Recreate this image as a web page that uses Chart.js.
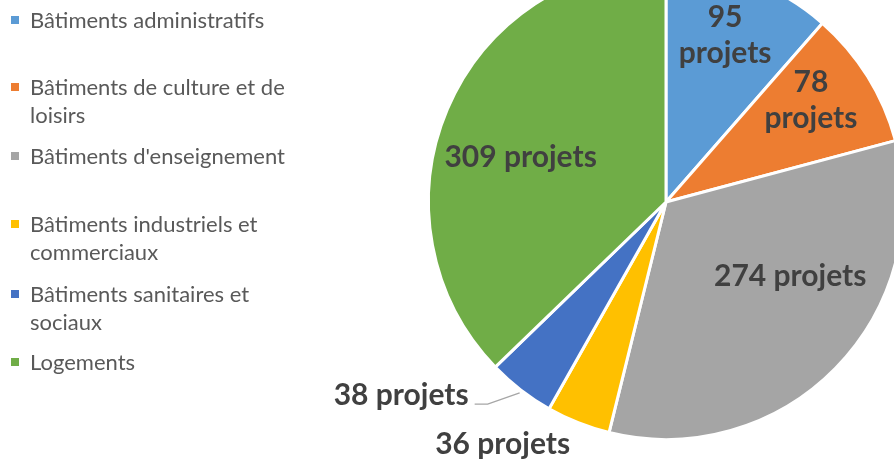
<!DOCTYPE html>
<html>
<head>
<meta charset="utf-8">
<script src="https://cdn.jsdelivr.net/npm/chart.js@4/dist/chart.umd.min.js"></script>
<style>
  html, body { margin:0; padding:0; background:#fff; }
  #wrap { position:relative; width:894px; height:461px; overflow:hidden; }
  #cv { position:absolute; left:0; top:-40px; }
  .lg { position:absolute; left:30px; font-family:Lato, "Open Sans", sans-serif; font-size:22px; line-height:28px; color:#595959; white-space:nowrap; }
  .lg i { position:absolute; left:-19px; top:10px; width:8px; height:8px; }
</style>
</head>
<body>
<div id="wrap">
  <canvas id="cv" width="940" height="501"></canvas>
  <div id="legend"></div>
</div>
<script>
// ---- data ----
const categories = [
  "Bâtiments administratifs",
  "Bâtiments de culture et de loisirs",
  "Bâtiments d'enseignement",
  "Bâtiments industriels et commerciaux",
  "Bâtiments sanitaires et sociaux",
  "Logements"
];
const projectCounts = [95, 78, 274, 36, 38, 309];
const unitLabel = "projets";

// ---- styles ----
const colors = ["#5B9BD5", "#ED7D31", "#A5A5A5", "#FFC000", "#4472C4", "#70AD47"];
const legendLines = [
  ["Bâtiments administratifs"],
  ["Bâtiments de culture et de", "loisirs"],
  ["Bâtiments d'enseignement"],
  ["Bâtiments industriels et", "commerciaux"],
  ["Bâtiments sanitaires et", "sociaux"],
  ["Logements"]
];
const legendTops = [6, 73, 142, 210, 280, 348];
// label placement: [angle from top clockwise in degrees, radius fraction, two lines?]
const labelPolar = [[19.5, 0.745, true], [55, 0.745, true], [121, 0.61, false], [214, 1.23, false], [233.9, 1.38, false], [287, 0.64, false]];

// legend
const lg = document.getElementById('legend');
legendLines.forEach((lines, i) => {
  const d = document.createElement('div');
  d.className = 'lg';
  d.style.top = legendTops[i] + 'px';
  d.innerHTML = '<i style="background:' + colors[i] + '"></i>' + lines.join('<br>');
  lg.appendChild(d);
});

const labelPlugin = {
  id: 'sliceLabels',
  afterDatasetsDraw(chart) {
    const ctx = chart.ctx;
    const meta = chart.getDatasetMeta(0);
    ctx.save();
    ctx.fillStyle = '#404040';
    ctx.font = 'bold 30px Lato, "Open Sans", sans-serif';
    ctx.textAlign = 'center';
    ctx.textBaseline = 'middle';
    meta.data.forEach((arc, i) => {
      const p = arc.getProps(['x', 'y', 'outerRadius', 'startAngle', 'endAngle'], true);
      const [deg, frac, two] = labelPolar[i];
      const a = (deg - 90) * Math.PI / 180;
      const x = p.x + Math.cos(a) * p.outerRadius * frac;
      const y = p.y + Math.sin(a) * p.outerRadius * frac;
      const v = chart.data.datasets[0].data[i];
      if (two) {
        ctx.fillText(String(v), x, y - 18);
        ctx.fillText(unitLabel, x, y + 18);
      } else {
        ctx.fillText(v + ' ' + unitLabel, x, y);
      }
      if (i === 4) {
        // leader line from label to slice edge
        const mid = (p.startAngle + p.endAngle) / 2;
        const ex = p.x + Math.cos(mid) * p.outerRadius;
        const ey = p.y + Math.sin(mid) * p.outerRadius;
        const w = ctx.measureText(v + ' ' + unitLabel).width;
        ctx.strokeStyle = '#A6A6A6';
        ctx.lineWidth = 1.3;
        ctx.beginPath();
        ctx.moveTo(x + w / 2 + 6, y + 9);
        ctx.lineTo(x + w / 2 + 19, y + 9);
        ctx.lineTo(ex - 1, ey + 3);
        ctx.stroke();
      }
    });
    ctx.restore();
  }
};

new Chart(document.getElementById('cv'), {
  type: 'pie',
  data: {
    labels: categories,
    datasets: [{
      data: projectCounts,
      backgroundColor: colors,
      borderColor: '#ffffff',
      borderWidth: 3
    }]
  },
  options: {
    responsive: false,
    animation: false,
    layout: { padding: { left: 427, right: 35, top: 3, bottom: 20 } },
    plugins: { legend: { display: false }, tooltip: { enabled: false } }
  },
  plugins: [labelPlugin]
});
</script>
</body>
</html>
